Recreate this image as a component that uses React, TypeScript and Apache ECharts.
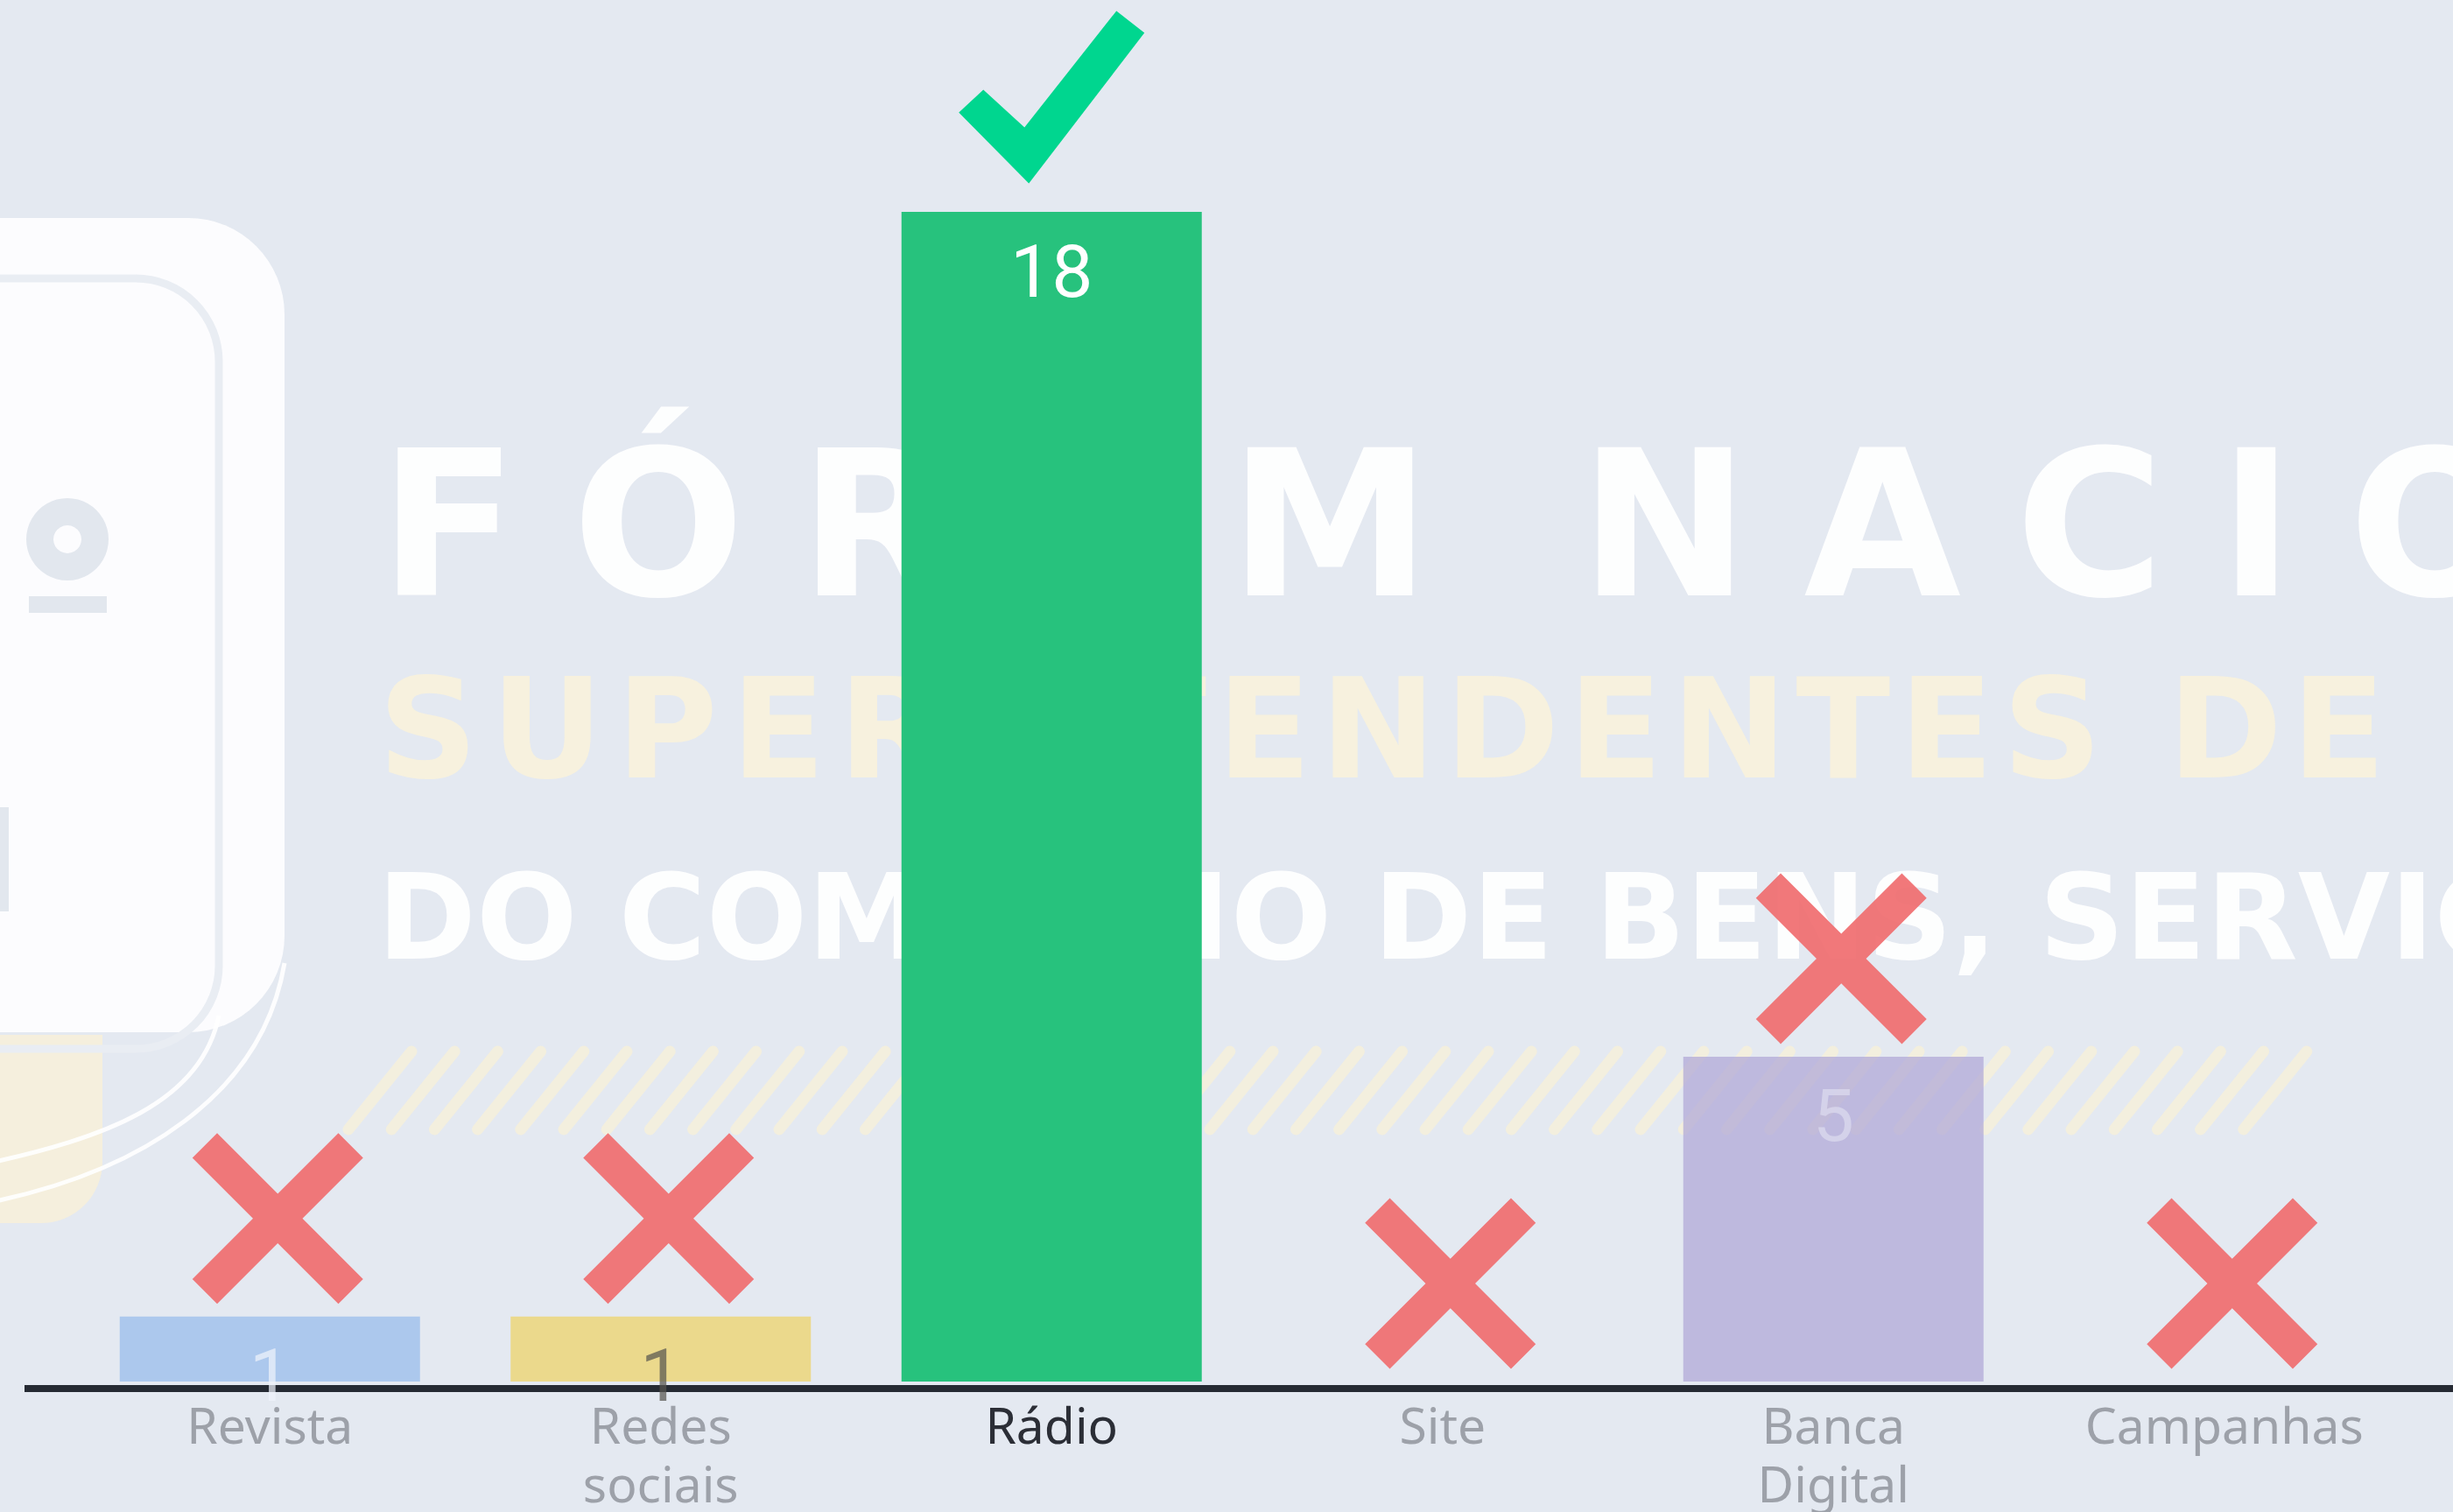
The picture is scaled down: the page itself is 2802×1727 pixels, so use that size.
import React, { useEffect, useRef } from 'react';
import * as echarts from 'echarts';

// ---- data ----
const categories = ['Revista', 'Redes\nsociais', 'Rádio', 'Site', 'Banca\nDigital', 'Campanhas'];
const values = [1, 1, 18, 0, 5, 0];
const barColors = ['#95bbeb', '#edd265', '#27c27d', '#b0b0b0', '#afa6d7', '#b0b0b0'];
const barOpacity = [0.72, 0.72, 1, 0.72, 0.72, 0.72];
const valueLabelColors = ['#eef3fb', '#56554f', '#ffffff', '#ffffff', '#dddbef', '#ffffff'];
const axisLabelColors = ['#9da1a9', '#9da1a9', '#2b2e36', '#9da1a9', '#9da1a9', '#9da1a9'];

// watermark texts
const watermarkTitle = 'FÓRUM NACIONAL';
const watermarkLine2 = 'SUPERINTENDENTES DE PROCONS';
const watermarkLine3 = 'DO COMÉRCIO DE BENS, SERVIÇOS';

const CROSS =
  'path://M14.5 0 L50 35.5 L85.5 0 L100 14.5 L64.5 50 L100 85.5 L85.5 100 L50 64.5 L14.5 100 L0 85.5 L35.5 50 L0 14.5 Z';
const CHECK = 'path://M28 90 L75 133 L180 0 L212 25 L80 197 L0 116 Z';

const W = 2802;
const H = 1727;

function measure(chars: string[], fontSize: number): number[] {
  try {
    const ctx = document.createElement('canvas').getContext('2d') as CanvasRenderingContext2D;
    ctx.font = `bold ${fontSize}px 'DejaVu Sans'`;
    return chars.map((c) => ctx.measureText(c).width);
  } catch (e) {
    return chars.map(() => fontSize * 0.72);
  }
}

function spanWidth(text: string, fontSize: number, ls: number): number {
  const w = measure(text.split(''), fontSize);
  return w.reduce((a, b) => a + b, 0) + ls * (w.length - 1);
}

function spacedText(
  els: any[],
  text: string,
  x0: number,
  y: number,
  fontSize: number,
  ls: number,
  spaceAdj: number,
  fill: string,
  opacity: number
) {
  const chars = text.split('');
  const widths = measure(chars, fontSize);
  let x = x0;
  chars.forEach((ch, i) => {
    if (ch !== ' ') {
      els.push({
        type: 'text',
        x,
        y,
        style: {
          text: ch,
          fontSize,
          fontWeight: 'bold',
          fontFamily: 'DejaVu Sans',
          fill,
          opacity,
          verticalAlign: 'middle',
          align: 'left',
        },
        z: -7,
      });
    }
    x += widths[i] + ls + (ch === ' ' ? spaceAdj : 0);
  });
}

function buildWatermark(): any[] {
  const els: any[] = [];
  // left logo card
  els.push({
    type: 'rect',
    shape: { x: -140, y: 249, width: 465, height: 930, r: 110 },
    style: { fill: '#fdfdfe', opacity: 0.95 },
    z: -10,
  });
  els.push({
    type: 'rect',
    shape: { x: -140, y: 318, width: 390, height: 880, r: 95 },
    style: { fill: 'none', stroke: '#e9edf3', lineWidth: 9 },
    z: -9,
  });
  els.push({
    type: 'ring',
    shape: { cx: 77, cy: 616, r: 47, r0: 16 },
    style: { fill: '#e2e7ee' },
    z: -9,
  });
  els.push({
    type: 'rect',
    shape: { x: 33, y: 681, width: 89, height: 19 },
    style: { fill: '#e2e7ee' },
    z: -9,
  });
  els.push({
    type: 'rect',
    shape: { x: -10, y: 922, width: 20, height: 119 },
    style: { fill: '#e2e7ee' },
    z: -9,
  });
  els.push({
    type: 'rect',
    shape: { x: -60, y: 1182, width: 177, height: 215, r: [0, 0, 70, 0] },
    style: { fill: '#f6efda', opacity: 0.9 },
    z: -10,
  });
  els.push({
    type: 'bezierCurve',
    shape: { x1: 250, y1: 1160, cpx1: 230, cpy1: 1260, x2: -20, y2: 1330, cpx2: 120, cpy2: 1300 },
    style: { stroke: '#ffffff', lineWidth: 5, fill: 'none', opacity: 0.9 },
    z: -9,
  });
  els.push({
    type: 'bezierCurve',
    shape: { x1: 325, y1: 1100, cpx1: 300, cpy1: 1250, x2: -20, y2: 1375, cpx2: 160, cpy2: 1340 },
    style: { stroke: '#ffffff', lineWidth: 5, fill: 'none', opacity: 0.9 },
    z: -9,
  });

  // hatched stripes band
  for (let i = 0; i < 45; i++) {
    const bx = 398 + 49.2 * i;
    els.push({
      type: 'line',
      shape: { x1: bx, y1: 1290, x2: bx + 72, y2: 1201 },
      style: { stroke: '#f6f0db', lineWidth: 13, lineCap: 'round', opacity: 0.85 },
      z: -8,
    });
  }

  // big title with wide letter spacing
  spacedText(els, watermarkTitle, 433, 600, 232, 62, -35, '#ffffff', 0.93);

  // second line (the middle part sits behind the tall bar)
  const pA = watermarkLine2.indexOf('INT');
  const pB = watermarkLine2.indexOf('ENDENTES');
  const segA = watermarkLine2.slice(0, pA);
  const segB = watermarkLine2.slice(pA, pB);
  const segC = watermarkLine2.slice(pB);
  const line2Color = '#f8f1dc';
  spacedText(els, segA, 432, 833, 158, 15, 0, line2Color, 0.95);
  const segBStart = 1390 - spanWidth(segB, 158, -5) - 12;
  spacedText(els, segB, segBStart, 833, 158, -5, 0, line2Color, 0.95);
  spacedText(els, segC, 1390, 833, 158, 10, 0, line2Color, 0.95);

  // third line
  els.push({
    type: 'text',
    x: 431,
    y: 1048,
    style: {
      text: watermarkLine3,
      fontSize: 136,
      fontWeight: 'bold',
      fontFamily: 'DejaVu Sans',
      fill: '#ffffff',
      opacity: 0.93,
      verticalAlign: 'middle',
      align: 'left',
    },
    z: -7,
  });

  // baseline axis line
  els.push({
    type: 'line',
    shape: { x1: 28, y1: 1586, x2: W + 10, y2: 1586 },
    style: { stroke: '#252a33', lineWidth: 8 },
    z: 0,
  });
  return els;
}

export default function App() {
  const ref = useRef<HTMLDivElement>(null);

  useEffect(() => {
    if (!ref.current) return;
    const chart = echarts.init(ref.current, null, { renderer: 'svg' });
    const maxVal = Math.max(...values);
    const correctIndex = values.indexOf(maxVal);

    const barData = values.map((v, i) => ({
      value: v,
      itemStyle: { color: barColors[i], opacity: barOpacity[i] },
      label: { show: v > 0, color: valueLabelColors[i] },
    }));

    const markData = values.map((v, i) => {
      const ok = i === correctIndex;
      return {
        value: [i, v],
        symbol: ok ? CHECK : CROSS,
        symbolSize: ok ? [212, 197] : [195, 195],
        symbolOffset: ok ? [0, -131] : [9, -112],
        itemStyle: { color: ok ? '#00d68f' : '#f06e70', opacity: ok ? 1 : 0.93 },
      };
    });

    chart.setOption({
      animation: false,
      backgroundColor: '#e4e9f1',
      grid: { left: 85, right: 38, top: 242, bottom: 145, containLabel: false },
      xAxis: {
        type: 'category',
        data: categories.map((c, i) => ({
          value: c,
          textStyle: { color: axisLabelColors[i] },
        })),
        axisLine: { show: false },
        axisTick: { show: false },
        splitLine: { show: false },
        axisLabel: {
          interval: 0,
          margin: 15,
          fontSize: 57,
          lineHeight: 67,
          fontFamily: 'Noto Sans',
          color: '#9da1a9',
        },
      },
      yAxis: {
        type: 'value',
        min: 0,
        max: 18,
        show: false,
        splitLine: { show: false },
      },
      graphic: buildWatermark(),
      series: [
        {
          type: 'bar',
          data: barData,
          barWidth: 343,
          z: 2,
          label: {
            show: true,
            position: 'insideTop',
            distance: 50,
            fontSize: 84,
            lineHeight: 36,
            fontFamily: 'Roboto',
            fontWeight: 'normal',
          },
        },
        {
          type: 'scatter',
          data: markData,
          z: 3,
          silent: true,
        },
      ],
    });

    return () => chart.dispose();
  }, []);

  return (
    <div
      ref={ref}
      style={{ position: 'fixed', left: 0, top: 0, width: W, height: H }}
    />
  );
}
